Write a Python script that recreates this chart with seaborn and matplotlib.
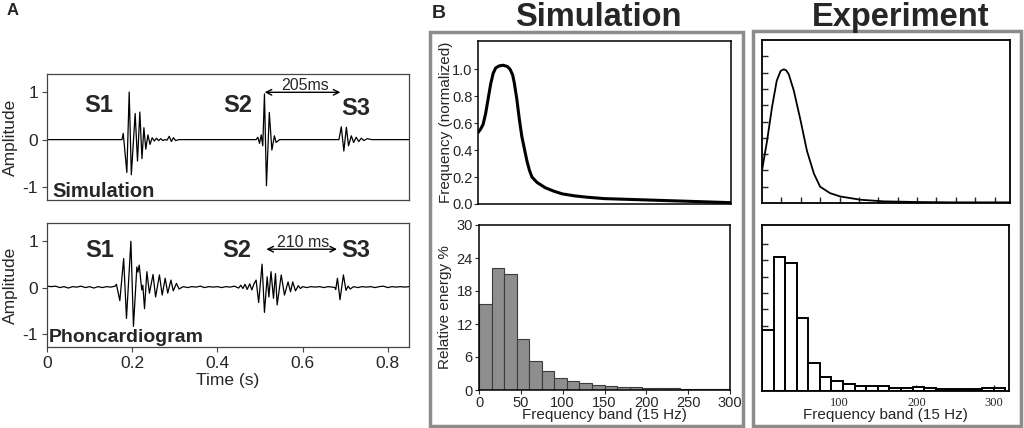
import numpy as np
import pandas as pd
import matplotlib
matplotlib.use('Agg')
import matplotlib.pyplot as plt
from matplotlib.patches import Rectangle
import seaborn as sns

# ---------------- panel A: heart sound traces (time s, amplitude) ----------------
sim_t = [0.0, 0.176, 0.179, 0.1875, 0.193, 0.198, 0.207, 0.2125, 0.218, 0.223, 0.2275,
         0.232, 0.237, 0.242, 0.247, 0.252, 0.257, 0.262, 0.267, 0.272, 0.277, 0.282,
         0.287, 0.292, 0.297, 0.302, 0.31,
         0.491, 0.495, 0.499, 0.503, 0.5066, 0.5106, 0.5153, 0.522, 0.528, 0.534, 0.538, 0.546,
         0.6855, 0.691, 0.697, 0.703, 0.708, 0.7145, 0.72, 0.726, 0.732, 0.738, 0.744,
         0.752, 0.762, 0.85]
sim_amp = [0.0, 0.0, 0.13, -0.69, 1.0, -0.74, 0.55, -0.45, 0.58, -0.4, 0.25,
           -0.2, 0.1, -0.1, 0.04, -0.03, 0.03, -0.02, 0.02, -0.02, 0.0, -0.01,
           0.07, -0.04, 0.04, -0.02, 0.0,
           0.0, 0.05, -0.08, 0.1, -0.13, 0.96, -0.97, 0.57, -0.22, 0.08, -0.06, 0.0,
           0.0, 0.27, -0.24, 0.26, -0.13, 0.08, -0.06, 0.05, -0.04, 0.03, -0.02,
           0.02, 0.0, 0.0]

pcg_t = [0.0, 0.01, 0.02, 0.03, 0.04, 0.05, 0.06, 0.07, 0.08, 0.09, 0.10, 0.11, 0.12,
         0.13, 0.14, 0.15, 0.16,
         0.163, 0.171, 0.18, 0.1866, 0.197, 0.203, 0.211, 0.2134, 0.2165, 0.2225, 0.225,
         0.229, 0.2345, 0.2405, 0.249, 0.255, 0.264, 0.2705, 0.2775, 0.2835, 0.291,
         0.2965, 0.304, 0.31,
         0.32, 0.33, 0.34, 0.35, 0.36, 0.37, 0.38, 0.39, 0.40, 0.41, 0.42, 0.43, 0.44, 0.45,
         0.455, 0.46, 0.465, 0.47, 0.476, 0.481, 0.486, 0.491, 0.497, 0.505, 0.5106, 0.517,
         0.521, 0.526, 0.5318, 0.5365, 0.5404, 0.55, 0.5576, 0.566, 0.5718, 0.577, 0.5835,
         0.59, 0.595,
         0.60, 0.61, 0.62, 0.63, 0.64, 0.65, 0.66, 0.67,
         0.676, 0.678, 0.682, 0.688, 0.696, 0.702, 0.707, 0.712, 0.72,
         0.73, 0.74, 0.75, 0.76, 0.77, 0.78, 0.79, 0.80, 0.81, 0.82, 0.83, 0.84, 0.85]
pcg_amp = [0.03, 0.02, 0.03, 0.0, 0.02, -0.01, 0.02, 0.01, 0.03, 0.0, 0.02, -0.01, 0.02,
           0.0, 0.02, 0.01, 0.03,
           0.07, -0.28, 0.62, -0.66, 0.99, -0.83, 0.44, 0.33, 0.48, -0.05, 0.05,
           -0.45, 0.34, -0.12, 0.28, -0.2, 0.27, -0.16, 0.2, -0.12, 0.16,
           -0.07, 0.09, -0.03,
           0.02, 0.0, 0.02, 0.01, 0.03, 0.0, 0.02, 0.01, 0.02, 0.0, 0.02, 0.01, 0.03, -0.01,
           0.05, -0.02, 0.07, -0.04, 0.08, -0.05, 0.08, 0.16, -0.32, 0.5, -0.53, 0.23,
           -0.2, 0.34, -0.23, 0.3, -0.37, 0.27, -0.16, 0.12, -0.09, 0.12, -0.07,
           0.04, -0.02,
           0.02, 0.0, 0.02, 0.01, 0.02, 0.0, 0.02, 0.01,
           0.0, -0.04, 0.2, -0.26, 0.27, -0.06, 0.03, -0.03, 0.02,
           0.0, 0.02, 0.01, 0.02, 0.0, 0.02, 0.03, 0.0, 0.02, 0.01, 0.02, 0.01, 0.02]

# ---------------- panel B: spectra ----------------
sim_freq = [0, 3, 6, 9, 12, 15, 18, 21, 25, 30, 35, 38, 41, 43, 46, 49, 52, 55, 58, 61,
            64, 70, 80, 90, 100, 115, 130, 150, 175, 200, 225, 250, 275, 300]
sim_spec = [0.53, 0.555, 0.59, 0.67, 0.78, 0.89, 0.97, 1.01, 1.025, 1.03, 1.02, 1.0, 0.96,
            0.9, 0.78, 0.63, 0.5, 0.41, 0.32, 0.25, 0.2, 0.16, 0.12, 0.095, 0.075, 0.06,
            0.05, 0.04, 0.035, 0.03, 0.025, 0.02, 0.015, 0.01]

exp_freq = [0, 6.5, 13, 19, 24, 28, 31, 34.5, 41, 49.6, 58, 67, 75, 88, 101, 127, 157,
            200, 243, 320]
exp_spec = [0.2, 0.38, 0.59, 0.75, 0.81, 0.82, 0.815, 0.79, 0.69, 0.51, 0.32, 0.18, 0.1,
            0.06, 0.04, 0.02, 0.01, 0.006, 0.004, 0.004]

sim_band = [0, 15, 30, 45, 60, 75, 90, 105, 120, 135, 150, 165, 180, 195, 210, 225,
            240, 255, 270, 285]
sim_energy = [15.6, 22.2, 21.1, 9.25, 5.35, 3.4, 2.1, 1.65, 1.3, 0.9, 0.8, 0.6, 0.5,
              0.45, 0.35, 0.3, 0.25, 0.2, 0.15, 0.15]

exp_band = [0, 15, 30, 45, 60, 75, 90, 105, 120, 135, 150, 165, 180, 195, 210, 225,
            240, 255, 270, 285, 300]
exp_energy = [11.2, 24.6, 23.5, 13.5, 5.2, 2.6, 1.9, 1.2, 1.0, 0.85, 0.85, 0.6, 0.5,
              0.8, 0.5, 0.3, 0.35, 0.4, 0.4, 0.5, 0.5]

W, H = 1024, 428


def box(l, t, r, b):
    # pixel box -> figure fraction
    return [l / W, 1 - b / H, (r - l) / W, (b - t) / H]


sns.set_style('ticks')
plt.rcParams['font.family'] = ['Liberation Sans', 'DejaVu Sans']
plt.rcParams['axes.unicode_minus'] = False

fig = plt.figure(figsize=(W / 100, H / 100), dpi=100)


def trace_axes(rect, t, amp):
    ax = fig.add_axes(rect)
    sns.lineplot(x=t, y=amp, ax=ax, color='black', lw=0.9, sort=False, estimator=None)
    ax.set_xlim(0, 0.85)
    ax.set_ylim(-1.27, 1.38)
    ax.set_yticks([-1, 0, 1])
    ax.set_yticklabels(['-1', '0', '1'])
    ax.set_ylabel('Amplitude', fontsize=12.5)
    ax.yaxis.set_label_coords(-0.08, 0.5)
    for s in ax.spines.values():
        s.set_color('#444444')
        s.set_linewidth(0.9)
    ax.tick_params(labelsize=12.5, length=3.5, width=0.8, color='#444444', pad=3)
    return ax


# ---- A top: simulation ----
axA1 = trace_axes(box(47, 74, 409, 200), sim_t, sim_amp)
axA1.tick_params(axis='x', bottom=False, labelbottom=False)
for lab, tx, ty in [('S1', 0.122, 0.72), ('S2', 0.448, 0.72), ('S3', 0.724, 0.65)]:
    axA1.text(tx, ty, lab, ha='center', va='center', fontsize=17, fontweight='bold')
axA1.annotate('', xy=(0.511, 0.995), xytext=(0.689, 0.995),
              arrowprops=dict(arrowstyle='<->', color='black', lw=1.0, shrinkA=0, shrinkB=0))
axA1.text(0.607, 1.04, '205ms', ha='center', va='baseline', fontsize=11.5)
axA1.text(0.012, -1.21, 'Simulation', ha='left', va='baseline', fontsize=14.5,
          fontweight='bold')

# ---- A bottom: phonocardiogram ----
axA2 = trace_axes(box(47, 223, 409, 347), pcg_t, pcg_amp)
axA2.set_xticks([0, 0.2, 0.4, 0.6, 0.8])
axA2.set_xticklabels(['0', '0.2', '0.4', '0.6', '0.8'])
axA2.set_xlabel('Time (s)', fontsize=12.5)
axA2.xaxis.set_label_coords(0.5, -0.21)
for lab, tx, ty in [('S1', 0.123, 0.79), ('S2', 0.446, 0.79), ('S3', 0.726, 0.79)]:
    axA2.text(tx, ty, lab, ha='center', va='center', fontsize=17, fontweight='bold')
axA2.annotate('', xy=(0.515, 0.82), xytext=(0.681, 0.82),
              arrowprops=dict(arrowstyle='<->', color='black', lw=1.0, shrinkA=0, shrinkB=0))
axA2.text(0.601, 0.87, '210 ms', ha='center', va='baseline', fontsize=11.5)
axA2.text(0.005, -1.16, 'Phoncardiogram', ha='left', va='baseline', fontsize=14,
          fontweight='bold')

# ---- B simulation: spectrum ----
axB1 = fig.add_axes(box(478, 41, 731, 204))
sns.lineplot(x=sim_freq, y=sim_spec, ax=axB1, color='black', lw=2.2, sort=False,
             estimator=None)
axB1.set_xlim(0, 300)
axB1.set_ylim(0, 1.21)
axB1.set_yticks([0, 0.2, 0.4, 0.6, 0.8, 1.0])
axB1.set_yticklabels(['0.0', '0.2', '0.4', '0.6', '0.8', '1.0'])
axB1.tick_params(axis='x', bottom=False, labelbottom=False)
axB1.tick_params(axis='y', labelsize=10.5, length=3, width=0.8, pad=1)
axB1.set_ylabel('Frequency (normalized)', fontsize=11)
axB1.yaxis.set_label_coords(-0.1, 0.5)

# ---- B simulation: band energy ----
axB2 = fig.add_axes(box(479, 225, 730, 390))
sns.histplot(x=[b + 7.5 for b in sim_band], weights=sim_energy, bins=sim_band + [300],
             ax=axB2, color='#8e8e8e', edgecolor='#3c3c3c', linewidth=0.8, alpha=1)
axB2.set_xlim(0, 300)
axB2.set_ylim(0, 30)
axB2.set_yticks([0, 6, 12, 18, 24, 30])
axB2.set_xticks([0, 50, 100, 150, 200, 250, 300])
axB2.tick_params(labelsize=10.5, length=3, width=0.8, pad=1.5)
axB2.set_ylabel('Relative energy %', fontsize=11)
axB2.yaxis.set_label_coords(-0.108, 0.5)
axB2.set_xlabel('Frequency band (15 Hz)', fontsize=11)
axB2.xaxis.set_label_coords(0.5, -0.112)

for ax in (axB1, axB2):
    for s in ax.spines.values():
        s.set_color('black')
        s.set_linewidth(1.1)

# ---- B experiment: spectrum ----
axC1 = fig.add_axes(box(762, 40, 1010, 203))
sns.lineplot(x=exp_freq, y=exp_spec, ax=axC1, color='black', lw=1.3, sort=False,
             estimator=None)
axC1.set_xlim(0, 320)
axC1.set_ylim(0, 1.0)
axC1.set_xticks([25, 50, 75, 100, 125, 150, 175, 200, 225, 250, 275, 300])
axC1.set_yticks([0.1, 0.2, 0.3, 0.4, 0.5, 0.6, 0.7, 0.8, 0.9])
axC1.tick_params(direction='in', length=4, width=1.0, labelbottom=False, labelleft=False)

# ---- B experiment: band energy ----
axC2 = fig.add_axes(box(762, 225, 1009, 391))
sns.histplot(x=[b + 7.5 for b in exp_band], weights=exp_energy, bins=exp_band + [315],
             ax=axC2, color='white', edgecolor='black', linewidth=1.4, alpha=1)
axC2.set_xlim(0, 320)
axC2.set_ylim(0, 30.5)
axC2.set_yticks([3, 6, 9, 12, 15, 18, 21, 24, 27])
axC2.set_xticks([100, 200, 300])
axC2.tick_params(direction='in', length=4, width=1.0, labelleft=False)
axC2.tick_params(axis='x', labelsize=9, pad=4)
for lab in axC2.get_xticklabels():
    lab.set_family('Liberation Serif')
axC2.set_ylabel('')
axC2.set_xlabel('Frequency band (15 Hz)', fontsize=11)
axC2.xaxis.set_label_coords(0.5, -0.105)

for ax in (axC1, axC2):
    for s in ax.spines.values():
        s.set_color('black')
        s.set_linewidth(1.3)

# ---- frames, titles, panel letters ----
for l, t, r, b in [(430, 32, 743, 426), (753, 31, 1021, 426)]:
    fig.add_artist(Rectangle((l / W, 1 - b / H), (r - l) / W, (b - t) / H,
                             transform=fig.transFigure, fill=False,
                             edgecolor='#8c8c8c', linewidth=2.5))

fig.text(598 / W, 1 - 26 / H, 'Simulation', ha='center', va='baseline', fontsize=23.5,
         fontweight='bold')
fig.text(901 / W, 1 - 26 / H, 'Experiment', ha='center', va='baseline', fontsize=23.5,
         fontweight='bold')
fig.text(7 / W, 1 - 15 / H, 'A', ha='left', va='baseline', fontsize=12, fontweight='bold')
fig.text(432 / W, 1 - 18 / H, 'B', ha='left', va='baseline', fontsize=14, fontweight='bold')

fig.savefig('out.png', dpi=100)
